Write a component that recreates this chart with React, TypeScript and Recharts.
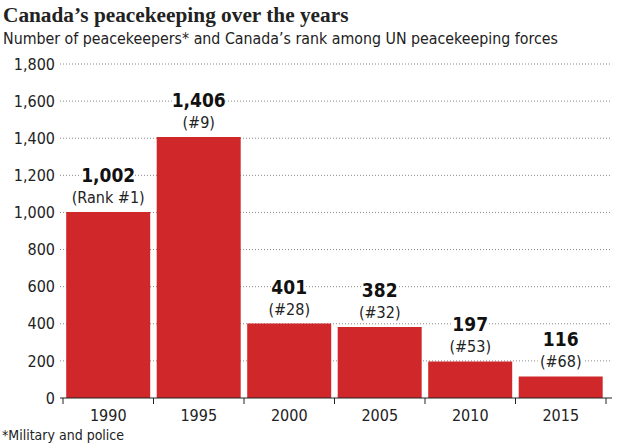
import React from "react";
import { BarChart, Bar, XAxis, YAxis, CartesianGrid, LabelList } from "recharts";

const years = ["1990", "1995", "2000", "2005", "2010", "2015"];
const peacekeepers = [1002, 1406, 401, 382, 197, 116];
const ranks = ["(Rank #1)", "(#9)", "(#28)", "(#32)", "(#53)", "(#68)"];
const yTicks = [0, 200, 400, 600, 800, 1000, 1200, 1400, 1600, 1800];

const data = years.map((y, i) => ({ year: y, value: peacekeepers[i], rank: ranks[i] }));

const W = 620;
const H = 448;
const PLOT_LEFT = 60;
const PLOT_RIGHT = 612;
const PAD_L = 3;
const PAD_R = 6;
const BAND = (PLOT_RIGHT - PLOT_LEFT - PAD_L - PAD_R) / years.length;
const COND = "'Liberation Sans Narrow', 'DejaVu Sans Condensed', 'Roboto Condensed', sans-serif";
const RED = "#d0282a";

const fmt = (v: number) => v.toLocaleString("en-US");

const XTick = (props: any) => {
  const { x, y, payload, index } = props;
  const left = x - BAND / 2;
  const right = x + BAND / 2;
  return (
    <g>
      <line x1={left} y1={y} x2={left} y2={y + 6} stroke="#222" strokeWidth={1} />
      {index === years.length - 1 && (
        <line x1={right} y1={y} x2={right} y2={y + 6} stroke="#222" strokeWidth={1} />
      )}
      <text x={x} y={y + 23} textAnchor="middle" fontFamily={COND} fontSize={16} fill="#222">
        {payload.value}
      </text>
    </g>
  );
};

const BarLabel = (props: any) => {
  const { x, y, width, index } = props;
  const cx = x + width / 2;
  const v = fmt(peacekeepers[index]);
  const r = ranks[index];
  const vw = v.length * 9.5 + 6;
  const rw = r.length * 8 + 6;
  return (
    <g>
      <rect x={cx - vw / 2} y={y - 48} width={vw} height={21} fill="#fff" />
      <rect x={cx - rw / 2} y={y - 26} width={rw} height={19} fill="#fff" />
      <text x={cx} y={y - 30} textAnchor="middle" fontFamily={COND} fontWeight="bold" fontSize={19} fill="#111">
        {v}
      </text>
      <text x={cx} y={y - 9} textAnchor="middle" fontFamily={COND} fontSize={16} fill="#222">
        {r}
      </text>
    </g>
  );
};

export default function App() {
  return (
    <div style={{ position: "absolute", left: 0, top: 0, width: W, height: H, background: "#fff" }}>
      <div
        style={{
          position: "absolute",
          left: 3,
          top: 3,
          fontFamily: "'Liberation Serif', 'DejaVu Serif', serif",
          fontWeight: "bold",
          fontSize: 21.3,
          color: "#222",
          whiteSpace: "nowrap",
          lineHeight: "24px",
        }}
      >
        Canada’s peacekeeping over the years
      </div>
      <div
        style={{
          position: "absolute",
          left: 3,
          top: 29,
          fontFamily: COND,
          fontSize: 15.8,
          color: "#222",
          whiteSpace: "nowrap",
          lineHeight: "20px",
        }}
      >
        Number of peacekeepers* and Canada’s rank among UN peacekeeping forces
      </div>
      <div style={{ position: "absolute", left: 0, top: 0 }}>
        <BarChart
          width={W}
          height={H}
          data={data}
          margin={{ top: 64, right: W - PLOT_RIGHT, bottom: 20, left: PLOT_LEFT - 55 }}
          barCategoryGap={3.2}
        >
          <CartesianGrid
            vertical={false}
            stroke="#888"
            strokeDasharray="1 2"
            horizontalValues={yTicks.filter((t) => t > 0)}
          />
          <YAxis
            width={55}
            domain={[0, 1800]}
            ticks={yTicks}
            axisLine={false}
            tickLine={false}
            tickSize={0}
            tickMargin={5}
            tickFormatter={fmt}
            tick={{ fontFamily: COND, fontSize: 16, fill: "#222" }}
            interval={0}
          />
          <XAxis
            dataKey="year"
            height={30}
            padding={{ left: PAD_L, right: PAD_R }}
            axisLine={{ stroke: "#222", strokeWidth: 1 }}
            tickLine={false}
            tickSize={0}
            tickMargin={0}
            tick={<XTick />}
            interval={0}
          />
          <Bar dataKey="value" fill={RED} isAnimationActive={false}>
            <LabelList dataKey="value" content={<BarLabel />} />
          </Bar>
        </BarChart>
      </div>
      <div
        style={{
          position: "absolute",
          left: 2,
          top: 426,
          fontFamily: COND,
          fontSize: 14,
          color: "#222",
          whiteSpace: "nowrap",
          lineHeight: "18px",
        }}
      >
        *Military and police
      </div>
    </div>
  );
}
